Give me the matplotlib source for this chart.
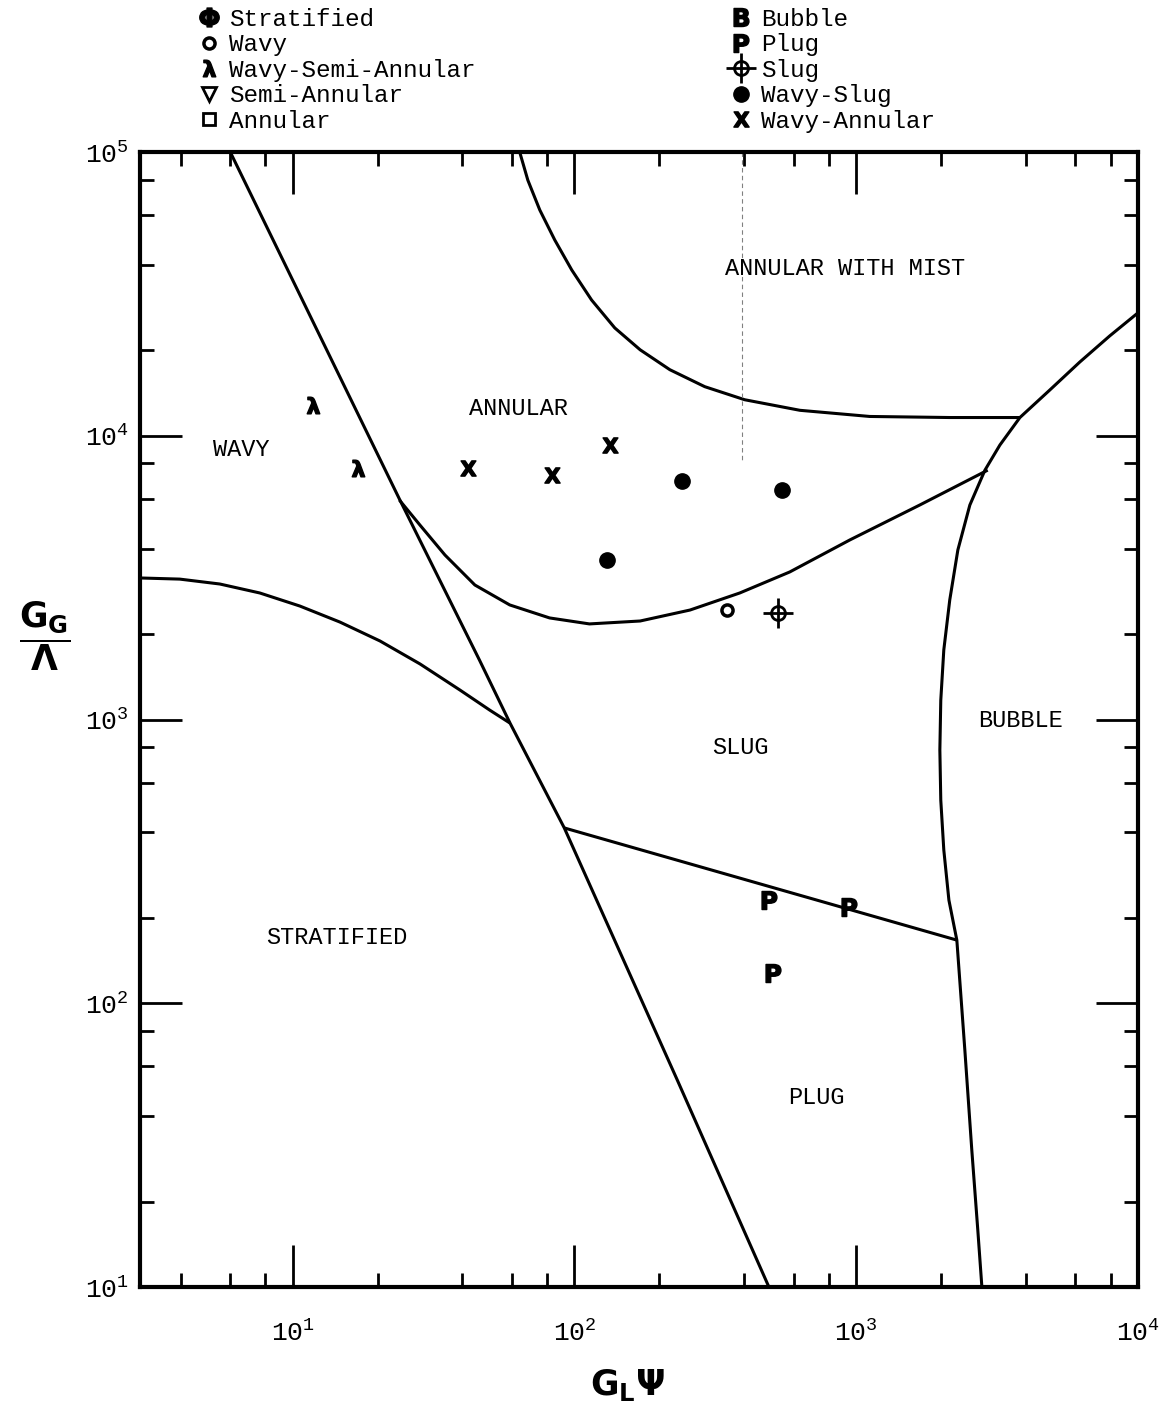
import numpy as np
import matplotlib as mpl
mpl.use('Agg')
import matplotlib.pyplot as plt
from matplotlib.ticker import LogLocator, NullFormatter

plt.rcParams['font.family'] = ['Liberation Mono', 'DejaVu Sans']

# boundary curves (x = G_L*Psi, y = G_G/Lambda)
strat_line_x = [6.0, 24, 46, 59, 92, 231, 490]
strat_line_y = [1e5, 5940, 1620, 973, 415, 54, 10]

wavy_strat_x = [2.87, 3.97, 5.51, 7.64, 10.6, 14.7, 20.4, 28.3, 39.2, 50.0, 58.9]
wavy_strat_y = [3155, 3126, 3004, 2793, 2512, 2206, 1892, 1570, 1271, 1080, 973]

annular_slug_x = [23.9, 28.3, 34.7, 44.3, 58.9, 81.6, 113, 171, 257, 386, 581, 949, 1682, 2929]
annular_slug_y = [5940, 4842, 3800, 2980, 2535, 2281, 2173, 2225, 2432, 2793, 3313, 4295, 5705, 7568]

mist_x = [63.9, 68.3, 75.3, 85.1, 97.8, 115, 139, 171, 218, 290, 402, 631, 1117, 2148, 3811]
mist_y = [1e5, 79600, 62500, 49000, 38400, 30100, 24000, 20100, 17100, 14900, 13400, 12300,
          11700, 11600, 11600]

bubble_x = [10300, 9990, 7943, 6218, 4865, 3811, 3236, 2864, 2531, 2295, 2148, 2046, 1996,
            1981, 1996, 2046, 2133, 2276, 2430, 2572, 2701, 2793]
bubble_y = [28800, 27100, 22500, 18200, 14500, 11600, 9280, 7570, 5700, 3960, 2640, 1760,
            1170, 781, 520, 347, 231, 167, 68.4, 30.4, 15.9, 10]

slug_plug_x = [92, 2276]
slug_plug_y = [415, 167]

# observed points
wsa_x = [11.8, 17.0]            # wavy-semi-annular
wsa_y = [12800, 7690]
wa_x = [42.0, 83.4, 133.6]      # wavy-annular
wa_y = [7690, 7280, 9270]
ws_x = [240, 544, 130.6]        # wavy-slug
ws_y = [6930, 6440, 3650]
wavy_x = [348]
wavy_y = [2430]
slug_x = [527]
slug_y = [2370]
plug_x = [490, 940, 506]
plug_y = [231, 218, 128]

regions = ['ANNULAR WITH MIST', 'ANNULAR', 'WAVY', 'SLUG', 'BUBBLE', 'STRATIFIED', 'PLUG']
region_x = [916, 63.2, 6.59, 389, 3820, 14.3, 724]
region_y = [39000, 12500, 8970, 794, 995, 170, 46.4]

scan_mark_x = 393
scan_mark_y = [1e5, 8200]

fig = plt.figure(figsize=(11.67, 14.08), dpi=100)
ax = fig.add_axes([0.12, 0.0859, 0.9751 - 0.12, 0.892 - 0.0859])
ax.set_xscale('log')
ax.set_yscale('log')

lw = 2.2
for xs, ys in [(strat_line_x, strat_line_y), (wavy_strat_x, wavy_strat_y),
               (annular_slug_x, annular_slug_y), (mist_x, mist_y),
               (bubble_x, bubble_y), (slug_plug_x, slug_plug_y)]:
    ax.plot(xs, ys, color='black', lw=lw, solid_capstyle='butt', solid_joinstyle='round')

ax.plot([scan_mark_x, scan_mark_x], scan_mark_y, color='0.5', lw=0.8, ls=(0, (4, 3)))

h_wsa, = ax.plot(wsa_x, wsa_y, ls='none', marker=r'$\mathbf{λ}$', ms=12, color='black')
h_wa, = ax.plot(wa_x, wa_y, ls='none', marker=r'$\mathbf{X}$', ms=11, color='black')
h_ws, = ax.plot(ws_x, ws_y, ls='none', marker='o', ms=11, color='black')
h_wavy, = ax.plot(wavy_x, wavy_y, ls='none', marker='o', ms=8, mfc='none', mec='black', mew=2.5)
h_s1, = ax.plot(slug_x, slug_y, ls='none', marker='o', ms=10, mfc='none', mec='black', mew=2)
h_s2, = ax.plot(slug_x, slug_y, ls='none', marker='+', ms=22, mec='black', mew=2)
h_plug, = ax.plot(plug_x, plug_y, ls='none', marker=r'$\mathbf{P}$', ms=13, color='black')

h_strat, = ax.plot([], [], ls='none', marker=r'$\mathbf{Φ}$', ms=14, color='black')
h_semi, = ax.plot([], [], ls='none', marker='v', ms=10, mfc='none', mec='black', mew=2)
h_ann, = ax.plot([], [], ls='none', marker='s', ms=9, mfc='none', mec='black', mew=2)
h_bub, = ax.plot([], [], ls='none', marker=r'$\mathbf{B}$', ms=13, color='black')

for name, x, y in zip(regions, region_x, region_y):
    ax.text(x, y, name, fontsize=17, ha='center', va='center')

ax.set_xlim(2.87, 1e4)
ax.set_ylim(10, 1e5)

for axis in (ax.xaxis, ax.yaxis):
    axis.set_major_locator(LogLocator(base=10, numticks=10))
    axis.set_minor_locator(LogLocator(base=10, subs=[2, 4, 6, 8], numticks=10))
    axis.set_minor_formatter(NullFormatter())
ax.tick_params(which='both', direction='in', top=True, right=True, width=2)
ax.tick_params(which='major', length=30, labelsize=19)
ax.tick_params(axis='x', which='major', pad=24)
ax.tick_params(axis='y', which='major', pad=8)
ax.tick_params(which='minor', length=10)
for s in ax.spines.values():
    s.set_linewidth(3)

fig.text(0.0386, 0.548, r'$\mathbf{\dfrac{G_G}{Λ}}$', fontsize=25, ha='center', va='center')
fig.text(0.538, 0.016, r'$\mathbf{G_L Ψ}$', fontsize=25, ha='center', va='center')

handles = [h_strat, h_wavy, h_wsa, h_semi, h_ann, h_bub, h_plug, (h_s1, h_s2), h_ws, h_wa]
labels = ['Stratified', 'Wavy', 'Wavy-Semi-Annular', 'Semi-Annular', 'Annular',
          'Bubble', 'Plug', 'Slug', 'Wavy-Slug', 'Wavy-Annular']
fig.legend(handles, labels, ncol=2, loc='upper left', bbox_to_anchor=(0.158, 1.003),
           frameon=False, fontsize=17.5, borderpad=0, handlelength=1, handletextpad=0.35,
           columnspacing=10.4, labelspacing=0.1, markerscale=1)

fig.savefig('out.png', dpi=100)
